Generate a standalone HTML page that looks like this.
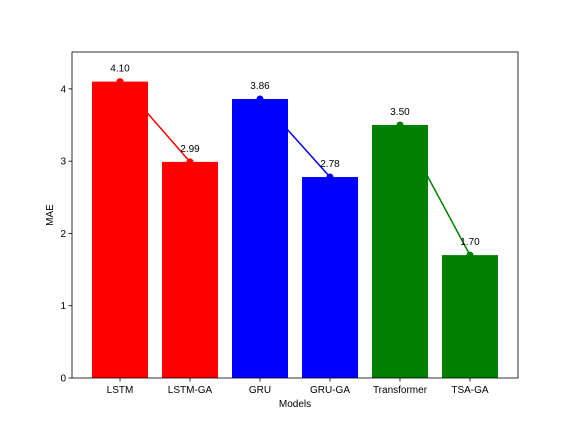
<!DOCTYPE html>
<html><head><meta charset="utf-8"><style>
html,body{margin:0;padding:0;background:#fff;}
svg{display:block;font-family:"Liberation Sans","DejaVu Sans",sans-serif;}
</style></head><body>
<svg id="chart" width="576" height="432" viewBox="0 0 576 432"></svg>
<script>
const categories = ["LSTM","LSTM-GA","GRU","GRU-GA","Transformer","TSA-GA"];
const values = [4.10, 2.99, 3.86, 2.78, 3.50, 1.70];
const colors = ["red","red","blue","blue","green","green"];
const valueLabels = ["4.10","2.99","3.86","2.78","3.50","1.70"];
const yTicks = [0,1,2,3,4];
const pairs = [[0,1],[2,3],[4,5]];

const NS = "http://www.w3.org/2000/svg";
const svg = document.getElementById("chart");
const L=72, R=518, T=52, B=378;
const xmin=-0.686, xmax=5.686, ymin=0, ymax=4.51;
const xs = v => L + (v - xmin)/(xmax - xmin)*(R-L);
const ys = v => B - (v - ymin)/(ymax - ymin)*(B-T);
function mk(tag, attrs, parent){const e=document.createElementNS(NS,tag);for(const k in attrs)e.setAttribute(k,attrs[k]);(parent||svg).appendChild(e);return e;}

const bw = xs(0.4)-xs(-0.4);
values.forEach((v,i)=>{
  const b = mk("rect",{x:xs(i)-bw/2,y:ys(v),width:bw,height:ys(0)-ys(v),fill:colors[i]});
  
  
});
pairs.forEach(p=>{
  const c = colors[p[0]];
  const l = mk("line",{x1:xs(p[0]),y1:ys(values[p[0]]),x2:xs(p[1]),y2:ys(values[p[1]]),stroke:c,"stroke-width":1.5});
  
  
  p.forEach(i=>{
    const m = mk("circle",{cx:xs(i),cy:ys(values[i]),r:3.5,fill:c});
    
    
  });
});
values.forEach((v,i)=>{
  const t = mk("text",{x:xs(i),y:ys(v)-10,"text-anchor":"middle","font-size":10,fill:"#000"});
  t.textContent = valueLabels[i];
  
  
});
const frame = mk("rect",{x:L,y:T,width:R-L,height:B-T,fill:"none",stroke:"#000","stroke-width":0.8});


yTicks.forEach(v=>{
  mk("line",{x1:L-3.5,y1:ys(v),x2:L,y2:ys(v),stroke:"#000","stroke-width":0.8});
  const t = mk("text",{x:L-6,y:ys(v)+3.5,"text-anchor":"end","font-size":10});
  t.textContent = v;
  
  
});
categories.forEach((c,i)=>{
  mk("line",{x1:xs(i),y1:B,x2:xs(i),y2:B+3.5,stroke:"#000","stroke-width":0.8});
  const t = mk("text",{x:xs(i),y:B+15,"text-anchor":"middle","font-size":10});
  t.textContent = c;
  
  
});
const xt = mk("text",{x:(L+R)/2,y:407,"text-anchor":"middle","font-size":10});
xt.textContent="Models";


const yt = mk("text",{x:0,y:0,"text-anchor":"middle","font-size":10,transform:"translate(53,"+((T+B)/2)+") rotate(-90)"});
yt.textContent="MAE";


</script>
</body></html>
